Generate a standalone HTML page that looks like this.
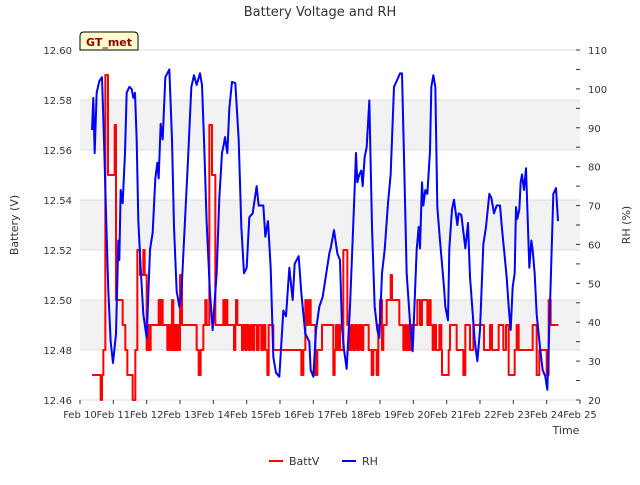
<!DOCTYPE html>
<html><head><meta charset="utf-8"><style>
body{margin:0;background:#fff;font-family:"Liberation Sans","DejaVu Sans",sans-serif}
svg text{font-family:"DejaVu Sans","Liberation Sans",sans-serif}
</style></head><body>
<svg id="chart" width="640" height="480" xmlns="http://www.w3.org/2000/svg">
<text x="320" y="16" text-anchor="middle" font-size="13" fill="#333">Battery Voltage and RH</text>
<g id="bands"></g>
<g id="grid"></g>
<g id="series"></g>
<g id="axes"></g>
<g>
<path d="M80,50 L80,36 Q80,32 84,32 L134,32 Q138,32 138,36 L138,50 Z" fill="#ffffcc" stroke="#000" stroke-width="1"/>
<text x="109" y="46" text-anchor="middle" font-size="11" font-weight="bold" fill="#8b0000">GT_met</text>
</g>
<text x="18" y="225" transform="rotate(-90 18 225)" text-anchor="middle" font-size="11" fill="#333">Battery (V)</text>
<text x="630" y="225" transform="rotate(-90 630 225)" text-anchor="middle" font-size="11" fill="#333">RH (%)</text>
<text x="566" y="434" text-anchor="middle" font-size="11" fill="#333">Time</text>
<g>
<g><line x1="269" y1="461" x2="283" y2="461" stroke="#f00" stroke-width="2"/><text x="289" y="465" font-size="11" fill="#333">BattV</text></g>
<g><line x1="342" y1="461" x2="356" y2="461" stroke="#00f" stroke-width="2"/><text x="362" y="465" font-size="11" fill="#333">RH</text></g>
</g>
</svg>
<script>
const xTickLabels=["Feb 10","Feb 11","Feb 12","Feb 13","Feb 14","Feb 15","Feb 16","Feb 17","Feb 18","Feb 19","Feb 20","Feb 21","Feb 22","Feb 23","Feb 24","Feb 25"];
const leftTicks=[12.46,12.48,12.50,12.52,12.54,12.56,12.58,12.60];
const rightTicks=[20,30,40,50,60,70,80,90,100,110];
const battDays=[0.36,0.62,0.66,0.70,0.76,0.84,1.04,1.08,1.28,1.36,1.42,1.58,1.66,1.72,1.80,1.90,1.94,2.00,2.04,2.08,2.12,2.36,2.40,2.44,2.48,2.62,2.66,2.72,2.76,2.80,2.84,2.88,2.92,2.96,3.00,3.06,3.50,3.56,3.62,3.70,3.76,3.80,3.88,3.96,4.06,4.30,4.34,4.38,4.42,4.62,4.66,4.68,4.72,4.86,4.90,4.96,5.0,5.06,5.12,5.18,5.22,5.30,5.36,5.44,5.50,5.56,5.62,5.66,5.80,6.64,6.70,6.76,6.80,6.86,6.92,7.06,7.12,7.26,7.60,7.64,7.68,7.72,7.76,7.80,7.90,8.02,8.08,8.14,8.20,8.26,8.32,8.38,8.44,8.50,8.66,8.75,8.80,8.90,8.95,9.00,9.06,9.10,9.20,9.32,9.36,9.58,9.70,9.76,9.80,9.86,9.90,9.96,10.12,10.20,10.26,10.42,10.48,10.52,10.58,10.62,10.68,10.78,10.84,10.86,11.06,11.10,11.30,11.50,11.56,11.70,11.80,12.12,12.30,12.36,12.56,12.70,12.78,12.86,13.04,13.10,13.16,13.58,13.70,13.78,14.00,14.06,14.12,14.20,14.35];
const battVals=[12.47,12.46,12.47,12.48,12.59,12.55,12.57,12.50,12.49,12.48,12.47,12.46,12.48,12.52,12.51,12.52,12.51,12.48,12.49,12.48,12.49,12.50,12.49,12.50,12.49,12.48,12.49,12.48,12.50,12.48,12.49,12.48,12.49,12.48,12.51,12.49,12.48,12.47,12.48,12.49,12.50,12.49,12.57,12.55,12.49,12.50,12.49,12.50,12.49,12.48,12.49,12.50,12.49,12.48,12.49,12.48,12.49,12.48,12.49,12.48,12.49,12.48,12.49,12.48,12.49,12.48,12.47,12.49,12.48,12.47,12.48,12.50,12.49,12.50,12.49,12.47,12.48,12.49,12.47,12.48,12.49,12.48,12.49,12.48,12.52,12.49,12.48,12.49,12.48,12.49,12.48,12.49,12.48,12.49,12.48,12.47,12.48,12.47,12.49,12.50,12.48,12.49,12.50,12.51,12.50,12.49,12.48,12.49,12.48,12.49,12.48,12.49,12.50,12.49,12.50,12.49,12.50,12.49,12.48,12.49,12.48,12.49,12.48,12.47,12.48,12.49,12.48,12.47,12.49,12.48,12.49,12.48,12.49,12.48,12.49,12.48,12.49,12.47,12.48,12.49,12.48,12.49,12.47,12.48,12.47,12.50,12.49,12.49];
const rhDays=[0.36,0.40,0.44,0.50,0.58,0.66,0.72,0.78,0.85,0.92,0.99,1.08,1.15,1.18,1.22,1.28,1.35,1.40,1.48,1.55,1.60,1.65,1.70,1.75,1.82,1.90,2.00,2.10,2.18,2.26,2.32,2.36,2.42,2.48,2.56,2.68,2.76,2.82,2.90,2.98,3.04,3.12,3.24,3.34,3.42,3.50,3.60,3.66,3.72,3.80,3.90,3.98,4.10,4.18,4.26,4.32,4.35,4.42,4.48,4.56,4.66,4.76,4.84,4.92,5.00,5.08,5.18,5.30,5.36,5.50,5.56,5.64,5.72,5.80,5.88,5.98,6.10,6.18,6.28,6.38,6.44,6.56,6.64,6.76,6.88,6.92,7.00,7.08,7.18,7.28,7.36,7.48,7.52,7.62,7.72,7.80,7.86,7.92,8.00,8.10,8.16,8.22,8.28,8.32,8.38,8.44,8.48,8.54,8.60,8.68,8.76,8.84,8.92,8.98,9.06,9.14,9.24,9.32,9.42,9.50,9.60,9.66,9.72,9.80,9.90,9.98,10.10,10.16,10.20,10.26,10.30,10.36,10.42,10.50,10.54,10.60,10.66,10.72,10.80,10.92,10.96,11.04,11.08,11.16,11.22,11.32,11.36,11.44,11.56,11.64,11.70,11.84,11.92,12.00,12.10,12.18,12.28,12.34,12.42,12.50,12.60,12.66,12.74,12.80,12.86,12.92,12.98,13.04,13.08,13.12,13.18,13.22,13.26,13.32,13.38,13.48,13.54,13.58,13.64,13.70,13.80,13.88,13.96,14.02,14.12,14.20,14.28,14.34];
const rhVals=[89.4,97.7,83.5,99,102,103,87,68,48,35,29.5,37,61,56,74,70.6,83.5,99,100.5,100,97.7,99,87,66,54,42,36,58.6,63,77,81,77,91,87,103,105,87,64.5,48,44,47,61,81.7,100.5,103.5,101,104,101,87,65.5,47.5,38,52.6,72,83.5,86,87.6,83.5,95,101.8,101.5,87,64.5,52.6,54,67,68,75,70,70,62,66,54,31,27,26,43,41.5,54,45.7,55,57,47.5,37,35,27.7,26,38,44,46.5,51,57.7,59,63.7,57.7,56,38.8,33,28,44,57,70,83.5,76,78,79,75,82.5,85,97,64.5,44,38,36,52.6,58.6,70.6,78,100.5,102,104,104,82.5,52.6,40,32.5,58.6,64.5,59,76,70,74,73,84,100.5,103.5,100.5,69.6,61,49,44,40.5,59,69,71.5,65,68,67.6,59,65.5,51.6,35.4,30,38,60,64.5,73,72,68,70,70,64,57,51.6,44,38,49,52.6,69.6,66.6,69,76,78,74,79.6,54,61,58.6,52.6,42,33.6,27.7,26,22.6,50,73,74.5,66];

const NS="http://www.w3.org/2000/svg";
const X0=80,X1=580,Y0=50,Y1=400;
const xs=d=>X0+(X1-X0)*d/15;
const yL=v=>Y1-(v-12.46)/(0.14)*(Y1-Y0);
const yR=v=>Y1-(v-20)/90*(Y1-Y0);
function mk(tag,attrs,parent){const e=document.createElementNS(NS,tag);for(const k in attrs)e.setAttribute(k,attrs[k]);parent.appendChild(e);return e;}
const bands=document.getElementById('bands'),grid=document.getElementById('grid'),axes=document.getElementById('axes'),series=document.getElementById('series');
mk('rect',{x:X0,y:Y0,width:X1-X0,height:Y1-Y0,fill:'#fff'},bands);
for(let i=0;i<leftTicks.length-1;i++){
  if(i%2===1){const b=mk('rect',{x:X0,y:yL(leftTicks[i+1]),width:X1-X0,height:yL(leftTicks[i])-yL(leftTicks[i+1]),fill:'#f2f2f2'},bands);
  
  }
}
leftTicks.forEach(v=>{
  const l=mk('line',{x1:X0,x2:X1,y1:yL(v),y2:yL(v),stroke:'#dcdcdc','stroke-width':1},grid);
  
  
  const t=mk('text',{x:X0-8,y:yL(v)+4,'text-anchor':'end','font-size':10,fill:'#333'},axes);t.textContent=v.toFixed(2);
  
  
});
for(let d=0;d<=15;d++){
  mk('line',{x1:xs(d),x2:xs(d),y1:Y1,y2:Y1+4,stroke:'#333'},axes);
  const t=mk('text',{x:xs(d),y:Y1+18,'text-anchor':'middle','font-size':10,fill:'#333'},axes);t.textContent=xTickLabels[d];
  
  
}
rightTicks.forEach((v,i)=>{
  mk('line',{x1:X1-4,x2:X1,y1:yR(v),y2:yR(v),stroke:'#333'},axes);
  if(i<rightTicks.length-1) mk('line',{x1:X1-4,x2:X1,y1:yR(v+5),y2:yR(v+5),stroke:'#333'},axes);
  const t=mk('text',{x:X1+8,y:yR(v)+4,'font-size':10,fill:'#333'},axes);t.textContent=v;
  
  
});
// battery step line
let p='';
battDays.forEach((d,i)=>{const x=xs(d),y=yL(battVals[i]);
  if(i===0)p+=`M${x},${y}`;else p+=`L${x},${yL(battVals[i-1])}L${x},${y}`;});
p+=`L${xs(battDays[battDays.length-1])},${yL(battVals[battVals.length-1])}`;
const bl=mk('path',{d:p,fill:'none',stroke:'#f00','stroke-width':2,'stroke-linejoin':'round'},series);


const rl=mk('polyline',{points:rhDays.map((d,i)=>xs(d)+','+yR(rhVals[i])).join(' '),fill:'none',stroke:'#00f','stroke-width':2,'stroke-linejoin':'round'},series);


</script>
</body></html>
